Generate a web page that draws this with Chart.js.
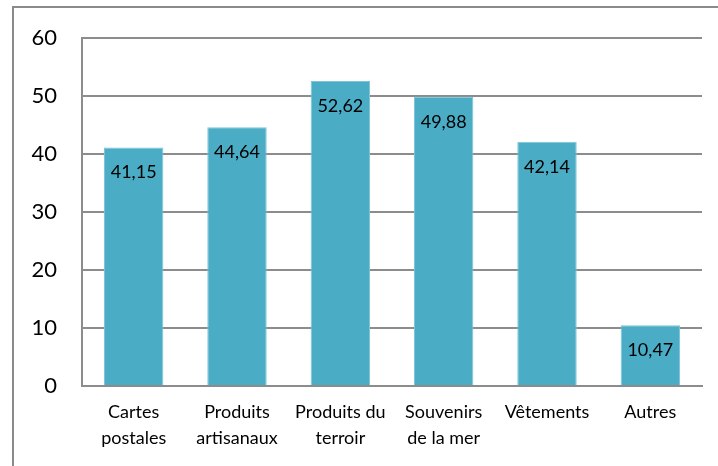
<!DOCTYPE html>
<html>
<head>
<meta charset="utf-8">
<script src="https://cdn.jsdelivr.net/npm/chart.js@4"></script>
<style>
  html, body { margin: 0; padding: 0; background: #fff; }
  #wrap { position: relative; width: 718px; height: 466px; overflow: hidden; }
  #frame { position: absolute; left: 12px; top: 6px; width: 800px; height: 600px; border: 2px solid #8a8a8a; }
  canvas { position: absolute; left: 0; top: 0; }
</style>
</head>
<body>
<div id="wrap">
  <div id="frame"></div>
  <canvas id="chart" width="718" height="466"></canvas>
</div>
<script>
// ===== DATA =====
const categories = [
  ['Cartes', 'postales'],
  ['Produits', 'artisanaux'],
  ['Produits du', 'terroir'],
  ['Souvenirs', 'de la mer'],
  ['Vêtements'],
  ['Autres']
];
const values = [41.15, 44.64, 52.62, 49.88, 42.14, 10.47];
const yTicks = [0, 10, 20, 30, 40, 50, 60];

const fontFamily = 'Lato, "Open Sans", sans-serif';

// draw the value inside the top of each bar, with a decimal comma
const barLabels = {
  id: 'barLabels',
  afterDatasetsDraw(chart) {
    const ctx = chart.ctx;
    const meta = chart.getDatasetMeta(0);
    ctx.save();
    ctx.font = '18px ' + fontFamily;
    ctx.fillStyle = '#000';
    ctx.textAlign = 'center';
    ctx.textBaseline = 'middle';
    meta.data.forEach(function(bar, i) {
      const text = String(values[i]).replace('.', ',');
      ctx.fillText(text, bar.x, bar.y + 25);
    });
    ctx.restore();
  }
};

new Chart(document.getElementById('chart'), {
  type: 'bar',
  data: {
    labels: categories,
    datasets: [{
      data: values,
      backgroundColor: '#4BACC6',
      borderColor: '#7cc4d8',
      borderWidth: 1,
      barPercentage: 0.575,
      categoryPercentage: 1
    }]
  },
  options: {
    responsive: false,
    animation: false,
    layout: { padding: { left: 0, top: 37, right: 16, bottom: 0 } },
    plugins: {
      legend: { display: false },
      tooltip: { enabled: false }
    },
    scales: {
      x: {
        grid: { display: false },
        border: { color: '#8c8c8c', width: 2 },
        ticks: {
          color: '#000',
          font: { family: fontFamily, size: 18, lineHeight: 1.45 },
          padding: 5,
          maxRotation: 0,
          autoSkip: false
        },
        afterFit: function(scale) { scale.height = 80; }
      },
      y: {
        min: 0,
        max: 60,
        afterBuildTicks: function(scale) {
          scale.ticks = yTicks.map(function(v) { return { value: v }; });
        },
        grid: { color: '#8c8c8c', lineWidth: 2, drawTicks: false },
        border: { color: '#8c8c8c', width: 2 },
        ticks: {
          color: '#000',
          font: { family: fontFamily, size: 22 },
          padding: 25
        },
        afterFit: function(scale) { scale.width = 82; }
      }
    }
  },
  plugins: [barLabels]
});
</script>
</body>
</html>
